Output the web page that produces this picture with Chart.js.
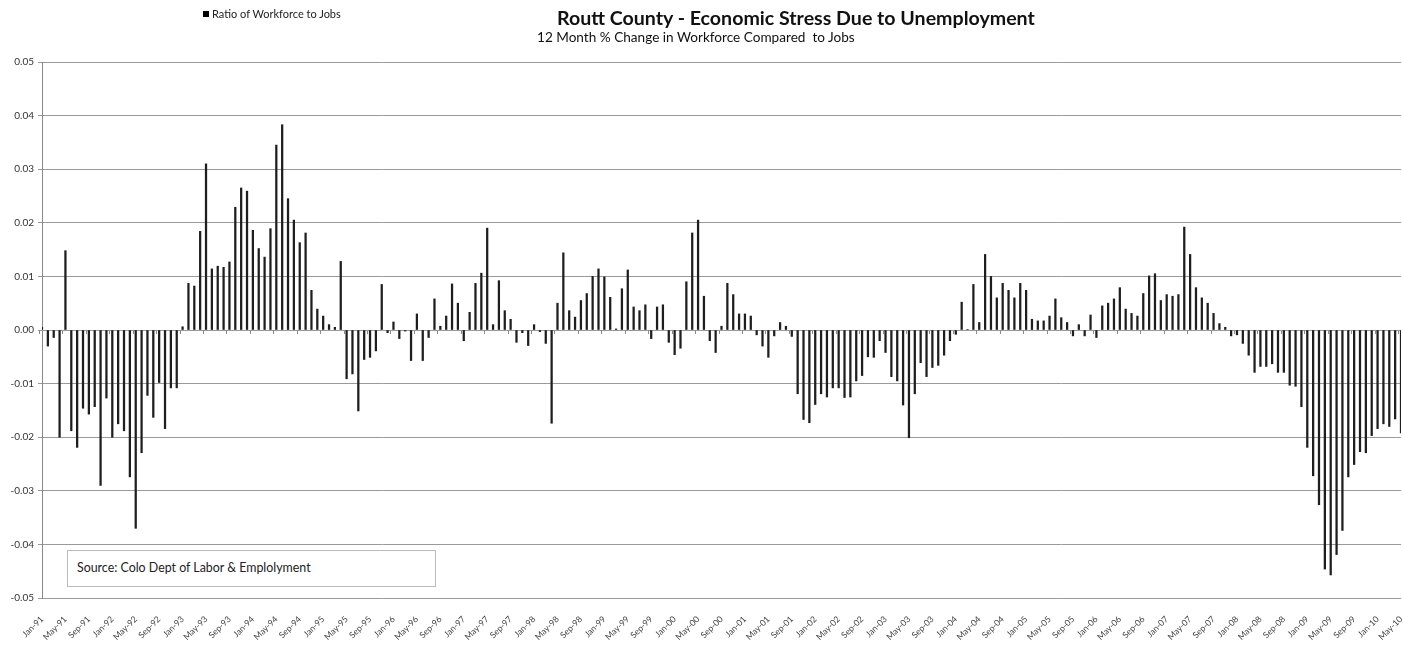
<!DOCTYPE html>
<html>
<head>
<meta charset="utf-8">
<script src="https://cdn.jsdelivr.net/npm/chart.js@4/dist/chart.umd.min.js"></script>
<style>
  body { margin: 0; background: #fff; font-family: Lato, "Open Sans", sans-serif; }
  #wrap { position: relative; width: 1403px; height: 645px; }
  #title { position: absolute; left: 557px; top: 5px; font-weight: bold; font-size: 19.6px; line-height: 26px; color: #111; white-space: nowrap; }
  #subtitle { position: absolute; left: 537px; top: 28px; font-size: 13.6px; line-height: 18px; color: #111; white-space: nowrap; }
  #legend { position: absolute; left: 203px; top: 6px; font-size: 11px; line-height: 15px; color: #222; white-space: nowrap; }
  #legend span { display: inline-block; width: 6px; height: 6px; background: #000; margin-right: 3px; vertical-align: 1px; }
  #source { position: absolute; left: 67px; top: 550px; width: 369px; height: 37px; border: 1px solid #bbb; background: #fff; box-sizing: border-box; font-size: 12.4px; line-height: 33px; padding-left: 9px; color: #222; white-space: nowrap; }
</style>
</head>
<body>
<div id="wrap">
  <canvas id="stresschart" width="1403" height="645"></canvas>
  <div id="title">Routt County - Economic Stress Due to Unemployment</div>
  <div id="subtitle">12 Month % Change in Workforce Compared&nbsp; to Jobs</div>
  <div id="legend"><span></span>Ratio of Workforce to Jobs</div>
  <div id="source">Source: Colo Dept of Labor &amp; Emplolyment</div>
</div>
<script>
const stressChart = document.getElementById("stresschart");

// months Jan-91 .. May-10
const monthNames = ["Jan", "Feb", "Mar", "Apr", "May", "Jun", "Jul", "Aug", "Sep", "Oct", "Nov", "Dec"];
const years = ["91","92","93","94","95","96","97","98","99","00","01","02","03","04","05","06","07","08","09","10"];
const lastMonthCount = 5; // 2010 runs to May

const ratioValues = [
    0.0005, -0.003, -0.0014, -0.020, 0.0148, -0.0188, -0.0219, -0.0146, -0.0157, -0.0143, -0.029, -0.0127,
    -0.020, -0.0175, -0.0188, -0.0274, -0.037, -0.0229, -0.0122, -0.0163, -0.0098, -0.0184, -0.0108, -0.0108,
    0.0006, 0.0087, 0.0082, 0.0184, 0.031, 0.0114, 0.0119, 0.0117, 0.0127, 0.0229, 0.0265, 0.0259,
    0.0186, 0.0152, 0.0136, 0.0189, 0.0345, 0.0383, 0.0245, 0.0205, 0.0163, 0.0181, 0.0074, 0.0039,
    0.0026, 0.001, 0.0005, 0.0128, -0.0091, -0.0082, -0.0151, -0.0055, -0.0051, -0.0039, 0.0085, -0.0005,
    0.0015, -0.0016, -0.0002, -0.0057, 0.003, -0.0057, -0.0014, 0.0058, 0.0007, 0.0026, 0.0086, 0.005,
    -0.002, 0.0033, 0.0087, 0.0106, 0.019, 0.001, 0.0092, 0.0036, 0.002, -0.0023, -0.0005, -0.0029,
    0.001, -0.0003, -0.0025, -0.0174, 0.005, 0.0144, 0.0036, 0.0024, 0.0055, 0.0068, 0.010, 0.0114,
    0.0099, 0.0061, 0.0002, 0.0077, 0.0112, 0.0043, 0.0036, 0.0047, -0.0016, 0.0043, 0.0047, -0.0023,
    -0.0046, -0.0034, 0.009, 0.0181, 0.0205, 0.0063, -0.002, -0.0042, 0.0007, 0.0087, 0.0066, 0.003,
    0.003, 0.0026, -0.0009, -0.003, -0.0051, -0.0011, 0.0014, 0.0007, -0.0012, -0.0119, -0.0167, -0.0173,
    -0.0139, -0.0119, -0.0125, -0.0108, -0.0108, -0.0126, -0.0125, -0.0095, -0.0085, -0.005, -0.0051, -0.002,
    -0.0042, -0.0087, -0.0095, -0.014, -0.0201, -0.0119, -0.0061, -0.0087, -0.007, -0.0066, -0.0047, -0.002,
    -0.0008, 0.0052, 0.0001, 0.0085, 0.0014, 0.0141, 0.010, 0.006, 0.0087, 0.0074, 0.006, 0.0087,
    0.0074, 0.002, 0.0017, 0.0017, 0.0026, 0.0058, 0.0023, 0.0014, -0.0011, 0.001, -0.0011, 0.0028,
    -0.0014, 0.0045, 0.005, 0.0058, 0.0079, 0.0039, 0.0031, 0.0026, 0.0068, 0.0101, 0.0105, 0.0055,
    0.0066, 0.0063, 0.0066, 0.0192, 0.0141, 0.0079, 0.006, 0.005, 0.0031, 0.0012, 0.0005, -0.0011,
    -0.0009, -0.0025, -0.0047, -0.0079, -0.0068, -0.0068, -0.0063, -0.0079, -0.0079, -0.0103, -0.0105, -0.0143,
    -0.0219, -0.0272, -0.0326, -0.0446, -0.0457, -0.0419, -0.0374, -0.0274, -0.0251, -0.0227, -0.0229, -0.0197,
    -0.0184, -0.0175, -0.018, -0.0166, -0.0192
];

const yTicks = [-0.05, -0.04, -0.03, -0.02, -0.01, 0, 0.01, 0.02, 0.03, 0.04, 0.05];

const monthLabels = [];
years.forEach(function(yr, i) {
    const count = i === years.length - 1 ? lastMonthCount : 12;
    for (let m = 0; m < count; m++) {
        monthLabels.push(monthNames[m] + "-" + yr);
    }
});

// small category tick marks hanging off the zero line, every 4 months
const zeroTicks = {
    id: "zeroTicks",
    afterDatasetsDraw(chart) {
        const ctx = chart.ctx;
        const x = chart.scales.x;
        const y0 = chart.scales.y.getPixelForValue(0);
        ctx.save();
        ctx.strokeStyle = "#8a8a8a";
        ctx.lineWidth = 1;
        ctx.beginPath();
        for (let i = 0; i < monthLabels.length; i += 4) {
            const px = Math.round(x.getPixelForValue(i) - 3) + 0.5;
            ctx.moveTo(px, y0);
            ctx.lineTo(px, y0 + 4);
        }
        ctx.stroke();
        ctx.restore();
    }
};

new Chart(stressChart, {
    type: "bar",
    data: {
        labels: monthLabels,
        datasets: [{
            label: "Ratio of Workforce to Jobs",
            data: ratioValues,
            backgroundColor: "#1e1e1e",
            barThickness: 1.6,
        }],
    },
    options: {
        responsive: false,
        animation: false,
        layout: {
            padding: { top: 62, right: 2, left: 0, bottom: 0 }
        },
        plugins: {
            legend: { display: false },
            tooltip: { enabled: false }
        },
        scales: {
            x: {
                offset: false,
                grid: { display: false },
                border: { display: false },
                afterFit: function(scale) {
                    scale.height = 47;
                    scale.paddingLeft = 0;
                    scale.paddingRight = 0;
                },
                ticks: {
                    autoSkip: false,
                    maxRotation: 45,
                    minRotation: 45,
                    padding: 8,
                    color: "#444",
                    font: { family: "Lato", size: 8.6 },
                    callback: function(val, i) {
                        return i % 4 === 0 ? monthLabels[i] : "";
                    }
                }
            },
            y: {
                min: -0.05,
                max: 0.05,
                afterFit: function(scale) { scale.width = 42; },
                afterBuildTicks: function(scale) {
                    scale.ticks = yTicks.map(v => ({ value: v }));
                },
                grid: { color: "#9a9a9a", tickLength: 4 },
                border: { color: "#888888" },
                ticks: {
                    color: "#333",
                    padding: 4,
                    font: { family: "Lato", size: 10 },
                    callback: function(v) { return v.toFixed(2); }
                }
            }
        }
    },
    plugins: [zeroTicks]
});
</script>
</body>
</html>
